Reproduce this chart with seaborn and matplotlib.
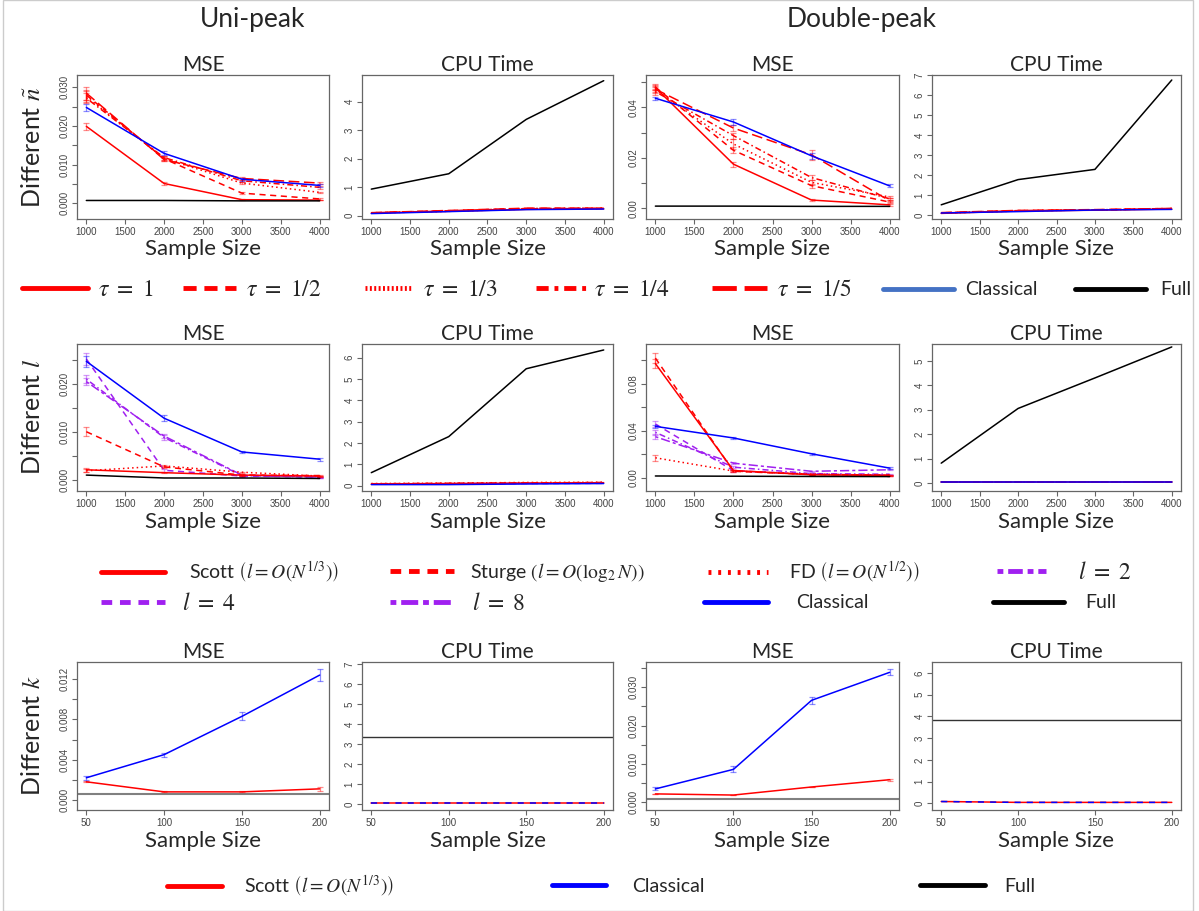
import matplotlib
matplotlib.use("Agg")
import matplotlib.pyplot as plt
import seaborn as sns
from matplotlib.lines import Line2D
from matplotlib.patches import Rectangle

# ---------------- data ----------------
x_n = [1000, 2000, 3000, 4000]
x_k = [50, 100, 150, 200]

# Different n~ (tau), uni-peak
uni_tau_mse = {
    "tau1": [0.0199, 0.0051, 0.0009, 0.0008],
    "tau2": [0.0280, 0.0115, 0.0026, 0.0011],
    "tau3": [0.0276, 0.0116, 0.0052, 0.0028],
    "tau4": [0.0272, 0.0118, 0.0058, 0.0041],
    "tau5": [0.0285, 0.0113, 0.0064, 0.0052],
    "Classical": [0.0248, 0.0129, 0.0062, 0.0046],
    "Full": [0.0007, 0.0007, 0.0006, 0.0006],
}
uni_tau_err = {
    "tau1": [0.0009, 0.0003, 0.0001, 0.0001],
    "tau2": [0.0014, 0.0005, 0.0002, 0.0002],
    "tau3": [0.0015, 0.0005, 0.0003, 0.0002],
    "tau4": [0.0013, 0.0005, 0.0003, 0.0003],
    "tau5": [0.0017, 0.0005, 0.0003, 0.0003],
    "Classical": [0.0008, 0.0005, 0.0004, 0.0003],
}
uni_tau_cpu = {
    "tau1": [0.09, 0.15, 0.22, 0.24],
    "tau2": [0.10, 0.16, 0.24, 0.25],
    "tau3": [0.09, 0.15, 0.23, 0.25],
    "tau4": [0.10, 0.17, 0.25, 0.26],
    "tau5": [0.10, 0.18, 0.26, 0.26],
    "Classical": [0.07, 0.14, 0.21, 0.23],
    "Full": [0.93, 1.47, 3.38, 4.74],
}

# Different n~ (tau), double-peak
dbl_tau_mse = {
    "tau1": [0.0478, 0.0175, 0.0033, 0.0014],
    "tau2": [0.0480, 0.0230, 0.0090, 0.0025],
    "tau3": [0.0470, 0.0255, 0.0103, 0.0045],
    "tau4": [0.0462, 0.0288, 0.0122, 0.0038],
    "tau5": [0.0472, 0.0318, 0.0212, 0.0030],
    "Classical": [0.0436, 0.0342, 0.0208, 0.0089],
    "Full": [0.0009, 0.0009, 0.0008, 0.0008],
}
dbl_tau_err = {
    "tau1": [0.0010, 0.0010, 0.0004, 0.0003],
    "tau2": [0.0012, 0.0012, 0.0008, 0.0005],
    "tau3": [0.0012, 0.0018, 0.0010, 0.0005],
    "tau4": [0.0012, 0.0012, 0.0010, 0.0005],
    "tau5": [0.0013, 0.0012, 0.0020, 0.0005],
    "Classical": [0.0006, 0.0010, 0.0012, 0.0006],
}
dbl_tau_cpu = {
    "tau1": [0.08, 0.20, 0.24, 0.30],
    "tau2": [0.10, 0.21, 0.25, 0.32],
    "tau3": [0.09, 0.20, 0.26, 0.31],
    "tau4": [0.11, 0.22, 0.25, 0.33],
    "tau5": [0.12, 0.23, 0.27, 0.33],
    "Classical": [0.10, 0.17, 0.25, 0.28],
    "Full": [0.51, 1.77, 2.28, 6.75],
}

# Different l, uni-peak
uni_l_mse = {
    "Scott": [0.0022, 0.0016, 0.0011, 0.0009],
    "Sturge": [0.0101, 0.0028, 0.0011, 0.0010],
    "FD": [0.0020, 0.0030, 0.0017, 0.0009],
    "l2": [0.0210, 0.0089, 0.0010, 0.0007],
    "l4": [0.0252, 0.0021, 0.0009, 0.0007],
    "l8": [0.0205, 0.0092, 0.0011, 0.0007],
    "Classical": [0.0247, 0.0129, 0.0059, 0.0044],
    "Full": [0.0011, 0.0005, 0.0005, 0.0004],
}
uni_l_err = {
    "Scott": [0.0004, 0.0001, 0.0001, 0.0001],
    "Sturge": [0.0009, 0.0002, 0.0001, 0.0001],
    "FD": [0.0003, 0.0002, 0.0001, 0.0001],
    "l2": [0.0008, 0.0005, 0.0001, 0.0001],
    "l4": [0.0012, 0.0003, 0.0001, 0.0001],
    "l8": [0.0008, 0.0005, 0.0001, 0.0001],
    "Classical": [0.0011, 0.0006, 0.0003, 0.0003],
}
uni_l_cpu = {
    "Scott": [0.08, 0.10, 0.12, 0.14],
    "Sturge": [0.09, 0.11, 0.13, 0.15],
    "FD": [0.10, 0.12, 0.15, 0.16],
    "l2": [0.07, 0.09, 0.11, 0.12],
    "l4": [0.07, 0.08, 0.10, 0.11],
    "l8": [0.08, 0.09, 0.11, 0.12],
    "Classical": [0.05, 0.05, 0.08, 0.10],
    "Full": [0.61, 2.30, 5.48, 6.36],
}

# Different l, double-peak
dbl_l_mse = {
    "Scott": [0.0973, 0.0062, 0.0025, 0.0020],
    "Sturge": [0.1020, 0.0055, 0.0028, 0.0022],
    "FD": [0.0170, 0.0057, 0.0030, 0.0022],
    "l2": [0.0387, 0.0090, 0.0035, 0.0030],
    "l4": [0.0458, 0.0060, 0.0030, 0.0022],
    "l8": [0.0350, 0.0124, 0.0055, 0.0068],
    "Classical": [0.0438, 0.0339, 0.0204, 0.0082],
    "Full": [0.0015, 0.0013, 0.0011, 0.0010],
}
dbl_l_err = {
    "Scott": [0.0040, 0.0008, 0.0003, 0.0003],
    "Sturge": [0.0045, 0.0008, 0.0003, 0.0003],
    "FD": [0.0025, 0.0005, 0.0003, 0.0003],
    "l2": [0.0020, 0.0010, 0.0004, 0.0004],
    "l4": [0.0025, 0.0008, 0.0004, 0.0004],
    "l8": [0.0020, 0.0010, 0.0005, 0.0005],
    "Classical": [0.0012, 0.0010, 0.0010, 0.0008],
}
dbl_l_cpu = {
    "Scott": [0.03, 0.03, 0.03, 0.03],
    "Sturge": [0.03, 0.03, 0.03, 0.03],
    "FD": [0.03, 0.03, 0.03, 0.03],
    "l2": [0.02, 0.02, 0.02, 0.02],
    "l4": [0.02, 0.02, 0.02, 0.02],
    "l8": [0.02, 0.02, 0.02, 0.02],
    "Classical": [0.03, 0.03, 0.03, 0.03],
    "Full": [0.81, 3.05, 4.30, 5.57],
}

# Different k
uni_k_mse = {
    "Scott": [0.0018, 0.0008, 0.0008, 0.0011],
    "Classical": [0.0022, 0.0045, 0.0083, 0.0124],
}
uni_k_err = {
    "Scott": [0.00005, 0.00005, 0.00005, 0.0002],
    "Classical": [0.0002, 0.0002, 0.0004, 0.0006],
}
uni_k_cpu = {
    "Scott": [0.05, 0.05, 0.05, 0.05],
    "Classical": [0.05, 0.05, 0.05, 0.05],
}
dbl_k_mse = {
    "Scott": [0.0022, 0.0019, 0.0040, 0.0059],
    "Classical": [0.0035, 0.0086, 0.0266, 0.0339],
}
dbl_k_err = {
    "Scott": [0.0001, 0.0001, 0.0001, 0.0003],
    "Classical": [0.0004, 0.0008, 0.0010, 0.0008],
}
dbl_k_cpu = {
    "Scott": [0.09, 0.05, 0.05, 0.05],
    "Classical": [0.09, 0.05, 0.05, 0.05],
}
full_k = {"uni_mse": 0.0006, "uni_cpu": 3.35, "dbl_mse": 0.0009, "dbl_cpu": 3.85}

# ---------------- styles ----------------
PURPLE = "#A020F0"
STYLE = {
    "tau1": ("red", "-"),
    "tau2": ("red", (0, (4, 3))),
    "tau3": ("red", (0, (1, 2))),
    "tau4": ("red", (0, (1, 2, 4, 2))),
    "tau5": ("red", (0, (7, 3))),
    "Scott": ("red", "-"),
    "Sturge": ("red", (0, (4, 3))),
    "FD": ("red", (0, (1, 2))),
    "l2": (PURPLE, (0, (1, 2, 4, 2))),
    "l4": (PURPLE, (0, (4, 3))),
    "l8": (PURPLE, (0, (2, 2, 6, 2))),
    "Classical": ("blue", "-"),
    "Full": ("black", "-"),
}
tau_order = ["tau5", "tau4", "tau3", "tau2", "tau1", "Classical", "Full"]
l_order = ["l2", "l4", "l8", "Scott", "Sturge", "FD", "Classical", "Full"]

W, H = 1199, 911
sns.set_theme(style="ticks")
plt.rcParams["font.family"] = ["Lato", "DejaVu Sans"]
plt.rcParams["mathtext.fontset"] = "stix"

fig = plt.figure(figsize=(W / 100, H / 100), dpi=100)

col_l = [77, 362, 646, 932]
col_r = [329, 613, 899, 1181]
row_t = [75, 344, 662]
row_b = [219, 491, 810]


def make_ax(r, c):
    l, rr, t, b = col_l[c], col_r[c], row_t[r], row_b[r]
    ax = fig.add_axes([l / W, 1 - b / H, (rr - l) / W, (b - t) / H])
    for s in ax.spines.values():
        s.set_color("#666666")
        s.set_linewidth(0.9)
    ax.tick_params(direction="out", length=3.5, width=0.8, color="#666666",
                   labelsize=7, labelcolor="#444444", pad=2,
                   labelfontfamily="Liberation Sans")
    ax.tick_params(axis="y", labelrotation=90)
    return ax


def draw(ax, x, vals, errs, order, over=None):
    for name in order:
        if name not in vals:
            continue
        color, ls = STYLE[name]
        if over and name in over:
            ls = over[name]
        sns.lineplot(x=x, y=vals[name], ax=ax, color=color, linestyle=ls,
                     linewidth=1.1, legend=False)
        if errs and name in errs:
            ax.errorbar(x, vals[name], yerr=errs[name], fmt="none", ecolor=color,
                        elinewidth=0.9, capsize=2.5, capthick=0.9, alpha=0.45)


def finish(ax, x, ylim, yticks, ylabels, title):
    span = x[-1] - x[0]
    ax.set_xlim(x[0] - 0.04 * span, x[-1] + 0.04 * span)
    if x[0] == 1000:
        ax.set_xticks(list(range(1000, 4001, 500)))
    else:
        ax.set_xticks(x)
    ax.set_ylim(*ylim)
    ax.set_yticks(yticks)
    ax.set_yticklabels(ylabels, va="center")
    ax.set_xlabel("Sample Size", fontsize=16)
    ax.xaxis.set_label_coords(0.5, -0.14)
    ax.xaxis.label.set_va("top")
    ax.set_ylabel("")
    ax.set_title(title, fontsize=15, pad=3)


def mse_labels(ticks, every, fmt):
    return [fmt.format(t) if i % every == 0 else "" for i, t in enumerate(ticks)]


# ---- row 1: different n~
ax = make_ax(0, 0)
draw(ax, x_n, uni_tau_mse, uni_tau_err, tau_order)
yt = [0, 0.005, 0.010, 0.015, 0.020, 0.025, 0.030]
finish(ax, x_n, (-0.0041, 0.0332), yt, mse_labels(yt, 2, "{:.3f}"), "MSE")

ax = make_ax(0, 1)
draw(ax, x_n, uni_tau_cpu, None, tau_order)
finish(ax, x_n, (-0.12, 4.94), [0, 1, 2, 3, 4], ["0", "1", "2", "3", "4"], "CPU Time")

ax = make_ax(0, 2)
draw(ax, x_n, dbl_tau_mse, dbl_tau_err, tau_order)
yt = [0, 0.01, 0.02, 0.03, 0.04, 0.05]
finish(ax, x_n, (-0.0042, 0.0528), yt, mse_labels(yt, 2, "{:.2f}"), "MSE")

ax = make_ax(0, 3)
draw(ax, x_n, dbl_tau_cpu, None, tau_order)
finish(ax, x_n, (-0.2, 7.0), list(range(8)), [str(i) for i in range(8)], "CPU Time")

# ---- row 2: different l
ax = make_ax(1, 0)
draw(ax, x_n, uni_l_mse, uni_l_err, l_order)
yt = [0, 0.005, 0.010, 0.015, 0.020, 0.025]
finish(ax, x_n, (-0.0022, 0.0283), yt, mse_labels(yt, 2, "{:.3f}"), "MSE")

ax = make_ax(1, 1)
draw(ax, x_n, uni_l_cpu, None, l_order)
finish(ax, x_n, (-0.25, 6.64), list(range(7)), [str(i) for i in range(7)], "CPU Time")

ax = make_ax(1, 2)
draw(ax, x_n, dbl_l_mse, dbl_l_err, l_order)
yt = [0, 0.02, 0.04, 0.06, 0.08, 0.10]
finish(ax, x_n, (-0.0113, 0.114), yt, mse_labels(yt, 2, "{:.2f}"), "MSE")

ax = make_ax(1, 3)
draw(ax, x_n, dbl_l_cpu, None, l_order)
finish(ax, x_n, (-0.33, 5.69), list(range(6)), [str(i) for i in range(6)], "CPU Time")

# ---- row 3: different k
dash_blue = {"Classical": (0, (4, 4))}
ax = make_ax(2, 0)
ax.axhline(full_k["uni_mse"], color="#808080", lw=1.5)
draw(ax, x_k, uni_k_mse, uni_k_err, ["Scott", "Classical"])
yt = [0, 0.002, 0.004, 0.006, 0.008, 0.010, 0.012]
finish(ax, x_k, (-0.001, 0.0137), yt, mse_labels(yt, 2, "{:.3f}"), "MSE")

ax = make_ax(2, 1)
ax.axhline(full_k["uni_cpu"], color="#333333", lw=1.0)
draw(ax, x_k, uni_k_cpu, None, ["Scott", "Classical"], over=dash_blue)
finish(ax, x_k, (-0.28, 7.1), list(range(8)), [str(i) for i in range(8)], "CPU Time")

ax = make_ax(2, 2)
ax.axhline(full_k["dbl_mse"], color="#808080", lw=1.5)
draw(ax, x_k, dbl_k_mse, dbl_k_err, ["Scott", "Classical"])
yt = [0, 0.005, 0.010, 0.015, 0.020, 0.025, 0.030, 0.035]
finish(ax, x_k, (-0.002, 0.0366), yt, mse_labels(yt, 2, "{:.3f}"), "MSE")

ax = make_ax(2, 3)
ax.axhline(full_k["dbl_cpu"], color="#333333", lw=1.0)
draw(ax, x_k, dbl_k_cpu, None, ["Scott", "Classical"], over=dash_blue)
finish(ax, x_k, (-0.3, 6.5), list(range(7)), [str(i) for i in range(7)], "CPU Time")

# ---- headers & row labels
fig.text(253 / W, 1 - 20 / H, "Uni-peak", fontsize=19, ha="center", va="center")
fig.text(862 / W, 1 - 20 / H, "Double-peak", fontsize=19, ha="center", va="center")
for lab, yc in [(r"Different $\tilde{n}$", 147), (r"Different $l$", 417), (r"Different $k$", 736)]:
    fig.text(32 / W, 1 - yc / H, lab, fontsize=18, rotation=90, ha="center", va="center")


# ---- legends
def key(label, color, ls, x0, x1, xt, y, size, lw=3.5):
    fs_px = size * 100 / 72
    h = Line2D([], [], color=color, linestyle=ls, linewidth=lw)
    fig.legend([h], [label], loc="center left", bbox_to_anchor=(x0 / W, 1 - y / H),
               frameon=False, fontsize=size, handlelength=(x1 - x0) / fs_px,
               handletextpad=max(xt - x1, 2) / fs_px, borderpad=0, borderaxespad=0)


LEG_DASH = (0, (2.7, 1.6))
LEG_DOT = (0, (0.4, 0.5))
LEG_DOTDASH = (0, (2.5, 1.2, 0.8, 1.2))
LEG_LONG = (0, (5, 1.6))
LEG_TWODASH = (0, (1.2, 1.0, 3.5, 1.0))

y1 = 290
key(r"$\tau\ =\ 1$", "red", "-", 22, 88, 98, y1, 17)
key(r"$\tau\ =\ 1/2$", "red", LEG_DASH, 183, 236, 246, y1, 17)
key(r"$\tau\ =\ 1/3$", "red", LEG_DOT, 365, 413, 423, y1, 17)
key(r"$\tau\ =\ 1/4$", "red", LEG_DOTDASH, 536, 586, 594, y1, 17)
key(r"$\tau\ =\ 1/5$", "red", LEG_LONG, 712, 767, 777, y1, 17)
key("Classical", "#4472C4", "-", 883, 954, 965, y1, 14)
key("Full", "black", "-", 1075, 1146, 1160, y1, 14)

ya, yb = 572, 603
key(r"Scott $\left(l = O\left(N^{1/3}\right)\right)$", "red", "-", 101, 165, 189, ya, 14)
key(r"Sturge $\left(l = O(\log_2 N)\right)$", "red", (0, (2.2, 1.6)), 390, 454, 470, ya, 14)
key(r"FD $\left(l = O\left(N^{1/2}\right)\right)$", "red", (0, (0.6, 1.4)), 708, 768, 789, ya, 14)
key(r"$l\ =\ 2$", PURPLE, (0, (1.2, 1.0, 3.0, 1.0)), 997, 1046, 1078, ya, 17)
key(r"$l\ =\ 4$", PURPLE, (0, (2.2, 1.6)), 101, 165, 182, yb, 17)
key(r"$l\ =\ 8$", PURPLE, LEG_TWODASH, 390, 454, 472, yb, 17)
key("Classical", "blue", "-", 704, 768, 796, yb, 14)
key("Full", "black", "-", 993, 1064, 1085, yb, 14)

y3 = 886
key(r"Scott $\left(l = O\left(N^{1/3}\right)\right)$", "red", "-", 167, 222, 244, y3, 14)
key("Classical", "blue", "-", 552, 606, 632, y3, 14)
key("Full", "black", "-", 920, 985, 1004, y3, 14)

fig.add_artist(Rectangle((3 / W, 0), 1190 / W, 1, transform=fig.transFigure,
                         fill=False, edgecolor="#cccccc", lw=1))

fig.savefig("out.png", dpi=100)
